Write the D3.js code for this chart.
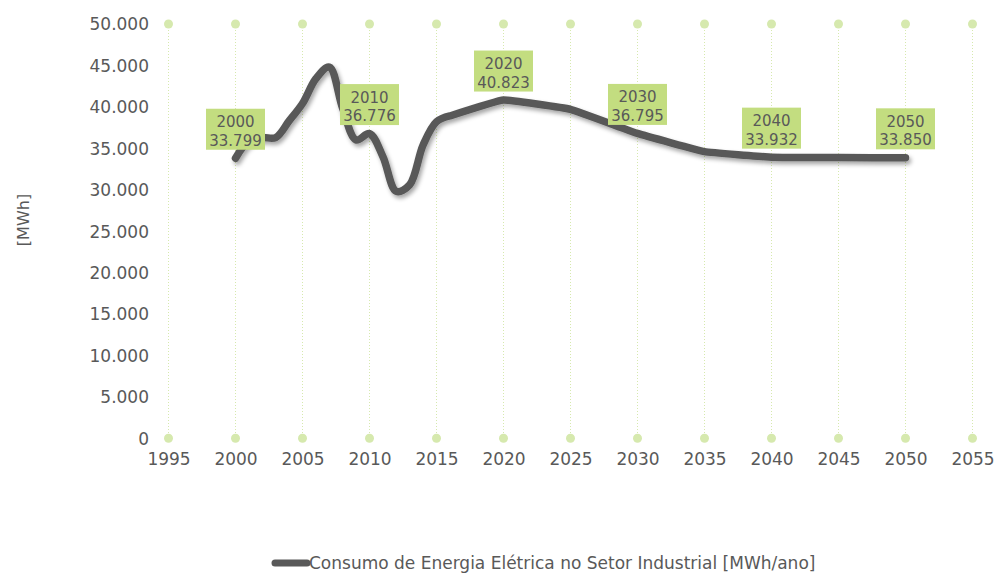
<!DOCTYPE html>
<html>
<head>
<meta charset="utf-8">
<script src="https://cdn.jsdelivr.net/npm/d3@7"></script>
<style>
  html, body { margin: 0; padding: 0; background: #fff; }
  svg { display: block; }
  text { font-family: "DejaVu Sans", sans-serif; fill: #595959; }
</style>
</head>
<body>
<svg id="chart" width="999" height="574"></svg>
<script>
// ---- data ----
const histYears = [2000, 2001, 2002, 2003, 2004, 2005, 2006, 2007, 2008, 2009, 2010, 2011, 2012, 2013, 2014, 2015, 2016];
const histValues = [33799, 35900, 36300, 36300, 38300, 40400, 43400, 44800, 39800, 36000, 36776, 34000, 29800, 30600, 35400, 38200, 38900];
const projYears = [2016, 2020, 2025, 2030, 2035, 2040, 2045, 2050];
const projValues = [38900, 40823, 39700, 36795, 34600, 33932, 33880, 33850];
const labelYears = [2000, 2010, 2020, 2030, 2040, 2050];
const xTicks = [1995, 2000, 2005, 2010, 2015, 2020, 2025, 2030, 2035, 2040, 2045, 2050, 2055];
const yTicks = [0, 5000, 10000, 15000, 20000, 25000, 30000, 35000, 40000, 45000, 50000];
const seriesName = "Consumo de Energia Elétrica no Setor Industrial [MWh/ano]";
const yTitle = "[MWh]";

// ---- layout ----
const svg = d3.select("#chart");
const x = d3.scaleLinear().domain([1995, 2055]).range([168.5, 972.5]);
const y = d3.scaleLinear().domain([0, 50000]).range([438.3, 24]);
const fmt = v => d3.format(",")(v).replace(/,/g, ".");
const gridColor = "#d6e9ae";
const lineColor = "#595959";

const defs = svg.append("defs");
const f = defs.append("filter").attr("id", "shadow").attr("x", "-10%").attr("y", "-20%").attr("width", "130%").attr("height", "150%");
f.append("feDropShadow").attr("dx", 2).attr("dy", 3).attr("stdDeviation", 2)
  .attr("flood-color", "#000").attr("flood-opacity", 0.35);

// vertical dotted gridlines with end dots
const grid = svg.append("g");
grid.selectAll("line").data(xTicks).join("line")
  .attr("x1", d => x(d)).attr("x2", d => x(d))
  .attr("y1", y(50000)).attr("y2", y(0))
  .attr("stroke", gridColor).attr("stroke-width", 1).attr("stroke-dasharray", "1,2");
grid.selectAll("circle.top").data(xTicks).join("circle").attr("class", "top")
  .attr("cx", d => x(d)).attr("cy", y(50000)).attr("r", 4.5).attr("fill", gridColor);
grid.selectAll("circle.bot").data(xTicks).join("circle").attr("class", "bot")
  .attr("cx", d => x(d)).attr("cy", y(0)).attr("r", 4.5).attr("fill", gridColor);

// y axis
const yAxis = svg.append("g").attr("transform", "translate(149,0)")
  .call(d3.axisLeft(y).tickValues(yTicks).tickSize(0).tickPadding(0).tickFormat(fmt));
yAxis.select(".domain").remove();
yAxis.selectAll("text").attr("font-size", 17).attr("fill", "#595959")
  .attr("font-family", "DejaVu Sans, sans-serif").attr("dy", "0.35em");

// x axis
const xAxis = svg.append("g").attr("transform", "translate(0,452)")
  .call(d3.axisBottom(x).tickValues(xTicks).tickSize(0).tickPadding(0).tickFormat(d3.format("d")));
xAxis.select(".domain").remove();
xAxis.selectAll("text").attr("font-size", 17).attr("fill", "#595959")
  .attr("font-family", "DejaVu Sans, sans-serif").attr("dy", "0.75em");

// y title
svg.append("text").attr("transform", "translate(29,220) rotate(-90)")
  .attr("text-anchor", "middle").attr("font-size", 16).text(yTitle);

// line (historical part smooth, projection part nearly straight)
const hist = histYears.map((yr, i) => ({ year: yr, v: histValues[i] }));
const proj = projYears.map((yr, i) => ({ year: yr, v: projValues[i] }));
const lineH = d3.line().x(d => x(d.year)).y(d => y(d.v)).curve(d3.curveCatmullRom.alpha(0.5));
const lineP = d3.line().x(d => x(d.year)).y(d => y(d.v)).curve(d3.curveCardinal.tension(0.75));
svg.append("path").attr("d", lineH(hist) + lineP(proj).replace(/^M[^LC]*/, m => "L" + m.slice(1)))
  .attr("fill", "none").attr("stroke", lineColor).attr("stroke-width", 7.5)
  .attr("stroke-linecap", "round").attr("stroke-linejoin", "round")
  .attr("filter", "url(#shadow)");

// data labels
const all = hist.concat(proj.slice(1));
const lab = svg.append("g").selectAll("g").data(all.filter(d => labelYears.includes(d.year))).join("g")
  .attr("transform", d => `translate(${x(d.year)},${y(d.v) - 8.5})`);
lab.append("rect").attr("x", -29.5).attr("y", -41).attr("width", 59).attr("height", 41).attr("fill", "#c3dd80");
lab.append("text").attr("text-anchor", "middle").attr("y", -22.5).attr("font-size", 15).text(d => d.year);
lab.append("text").attr("text-anchor", "middle").attr("y", -4).attr("font-size", 15).text(d => fmt(d.v));

// legend
const leg = svg.append("g");
leg.append("line").attr("x1", 275).attr("x2", 307).attr("y1", 563).attr("y2", 563)
  .attr("stroke", lineColor).attr("stroke-width", 7).attr("stroke-linecap", "round");
leg.append("text").attr("x", 309).attr("y", 569).attr("font-size", 17).text(seriesName);
</script>
</body>
</html>
